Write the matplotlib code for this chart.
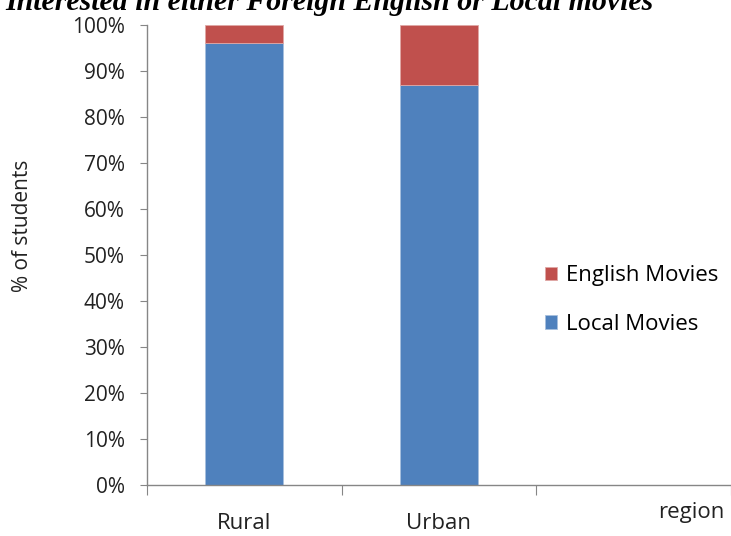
import matplotlib
matplotlib.use("Agg")
from matplotlib import pyplot as plt
from matplotlib.ticker import FixedLocator, PercentFormatter

regions = ["Rural", "Urban"]
local_movies = [96, 87]
english_movies = [4, 13]
y_ticks = list(range(0, 101, 10))

blue = "#4F81BD"
red = "#C0504D"
axis_grey = "#868686"
text_col = "#222222"
font = "Open Sans"

fig = plt.figure(figsize=(7.31, 5.36), dpi=100)
ax = fig.add_axes([147 / 731, 51 / 536, 584 / 731, 460 / 536])

x = list(range(len(regions)))
ax.bar(x, local_movies, width=0.4, color=blue, edgecolor="#A7C0DE", linewidth=0.6,
       label="Local Movies", zorder=2)
ax.bar(x, english_movies, width=0.4, bottom=local_movies, color=red,
       edgecolor="#DFA8A6", linewidth=0.6, label="English Movies", zorder=2)

ax.set_xlim(-0.5, -0.5 + 584 / 198)
ax.set_ylim(0, 100)

ax.yaxis.set_major_locator(FixedLocator(y_ticks))
ax.yaxis.set_major_formatter(PercentFormatter(decimals=0))
ax.tick_params(axis="y", direction="out", length=5, color=axis_grey,
               labelsize=15, pad=11, labelcolor=text_col)

# category boundaries carry the tick marks, names sit centred below
ax.set_xticks([-0.5, 0.5, 1.5, 2.5])
ax.set_xticklabels([])
ax.set_xticks(x, minor=True)
ax.set_xticklabels(regions, minor=True)
ax.tick_params(axis="x", which="major", direction="out", length=7, color=axis_grey)
ax.tick_params(axis="x", which="minor", length=0, labelsize=16, pad=20,
               labelcolor=text_col)

for side in ["top", "right"]:
    ax.spines[side].set_visible(False)
for side in ["left", "bottom"]:
    ax.spines[side].set_color(axis_grey)
    ax.spines[side].set_linewidth(1)

for lbl in ax.get_yticklabels() + ax.get_xticklabels(minor=True):
    lbl.set_family(font)

ax.set_ylabel("% of students", fontsize=15, family=font, color=text_col)
ax.yaxis.set_label_coords(-0.195, 0.563)

fig.text(691 / 731, 18 / 536, "region", ha="center", va="baseline",
         fontsize=16, family=font, color=text_col)

handles, labels = ax.get_legend_handles_labels()
leg = ax.legend(handles[::-1], labels[::-1], loc="center left",
                bbox_to_anchor=(0.681, 0.402), frameon=False,
                borderpad=0, borderaxespad=0,
                prop={"family": font, "size": 16}, handlelength=0.55,
                handleheight=0.55, handletextpad=0.4, labelspacing=1.25)

fig.text(0.451, 1 - 10 / 536, "Interested in either Foreign English or Local movies",
         ha="center", va="baseline", fontsize=21.5, fontweight="bold",
         fontstyle="italic", family="Liberation Serif")

fig.savefig("out.png", dpi=100)
